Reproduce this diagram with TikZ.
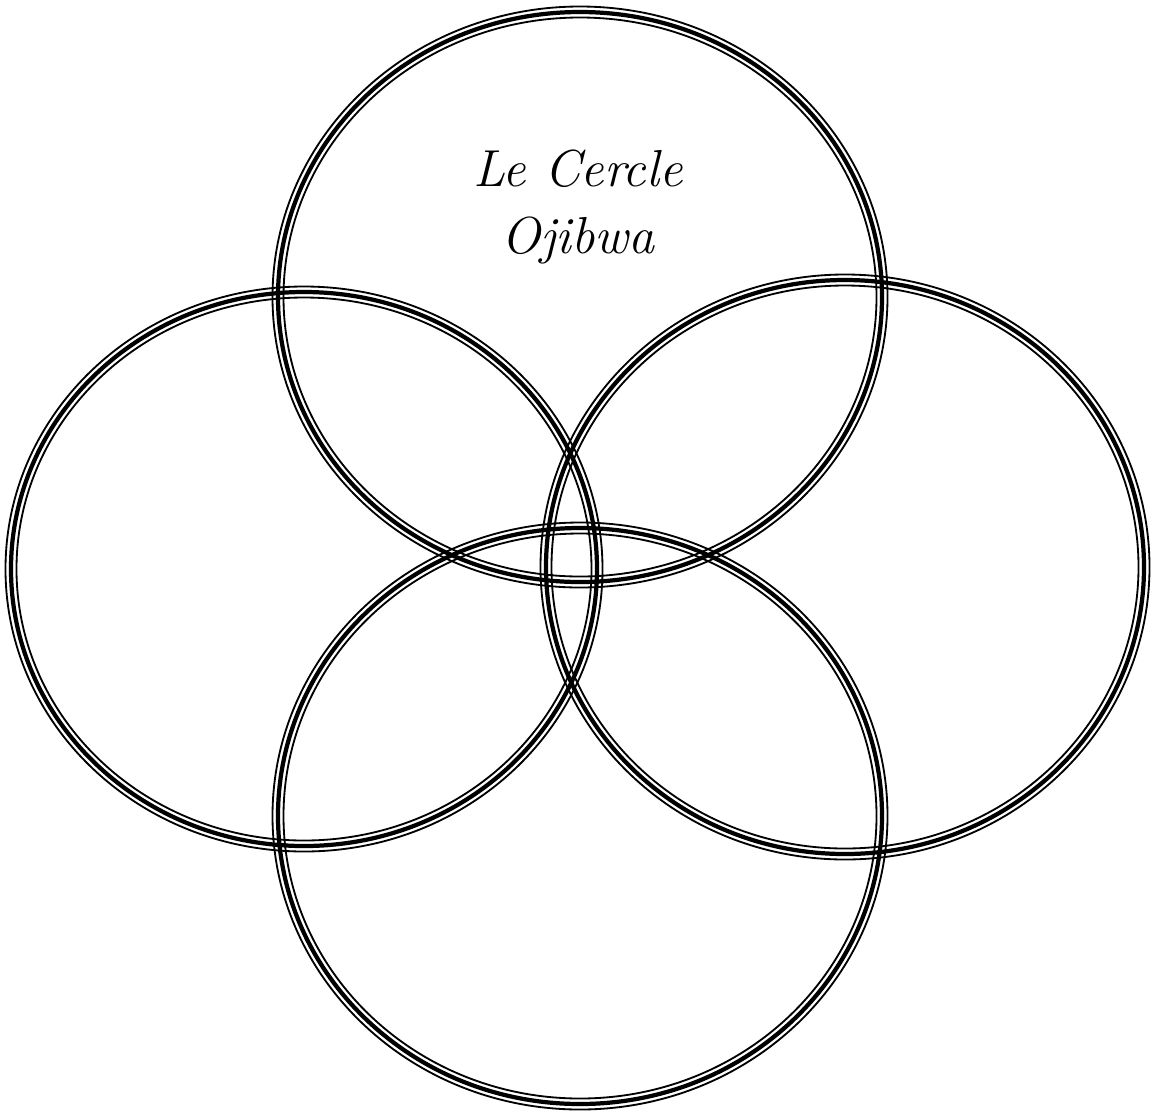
\documentclass[tikz,border=0pt]{standalone}
\usepackage{tikz}
\tikzset{
  ringmid/.style={draw=black, line width=3pt},
  ringside/.style={draw=black, line width=1.3pt},
  titulo/.style={align=center, font=\itshape\fontsize{37}{48}\selectfont}
}
% one ring: thin - thick - thin
\newcommand{\anillo}[4]{%
  \draw[ringside] (#1,#2) ellipse [x radius=#3+5.5, y radius=#4+5.5];
  \draw[ringmid]  (#1,#2) ellipse [x radius=#3, y radius=#4];
  \draw[ringside] (#1,#2) ellipse [x radius=#3-5.5, y radius=#4-5.5];
}
\begin{document}
\begin{tikzpicture}[x=0.025cm,y=-0.025cm]
\useasboundingbox (0,0) rectangle (1157,1114);
\anillo{580}{297}{302}{285}
\anillo{304}{569}{293}{277}
\anillo{845}{567}{299}{287}
\anillo{580}{816}{302}{288}
\node[titulo] (titre) at (578,207) {Le Cercle\\ Ojibwa};
\end{tikzpicture}
\end{document}
